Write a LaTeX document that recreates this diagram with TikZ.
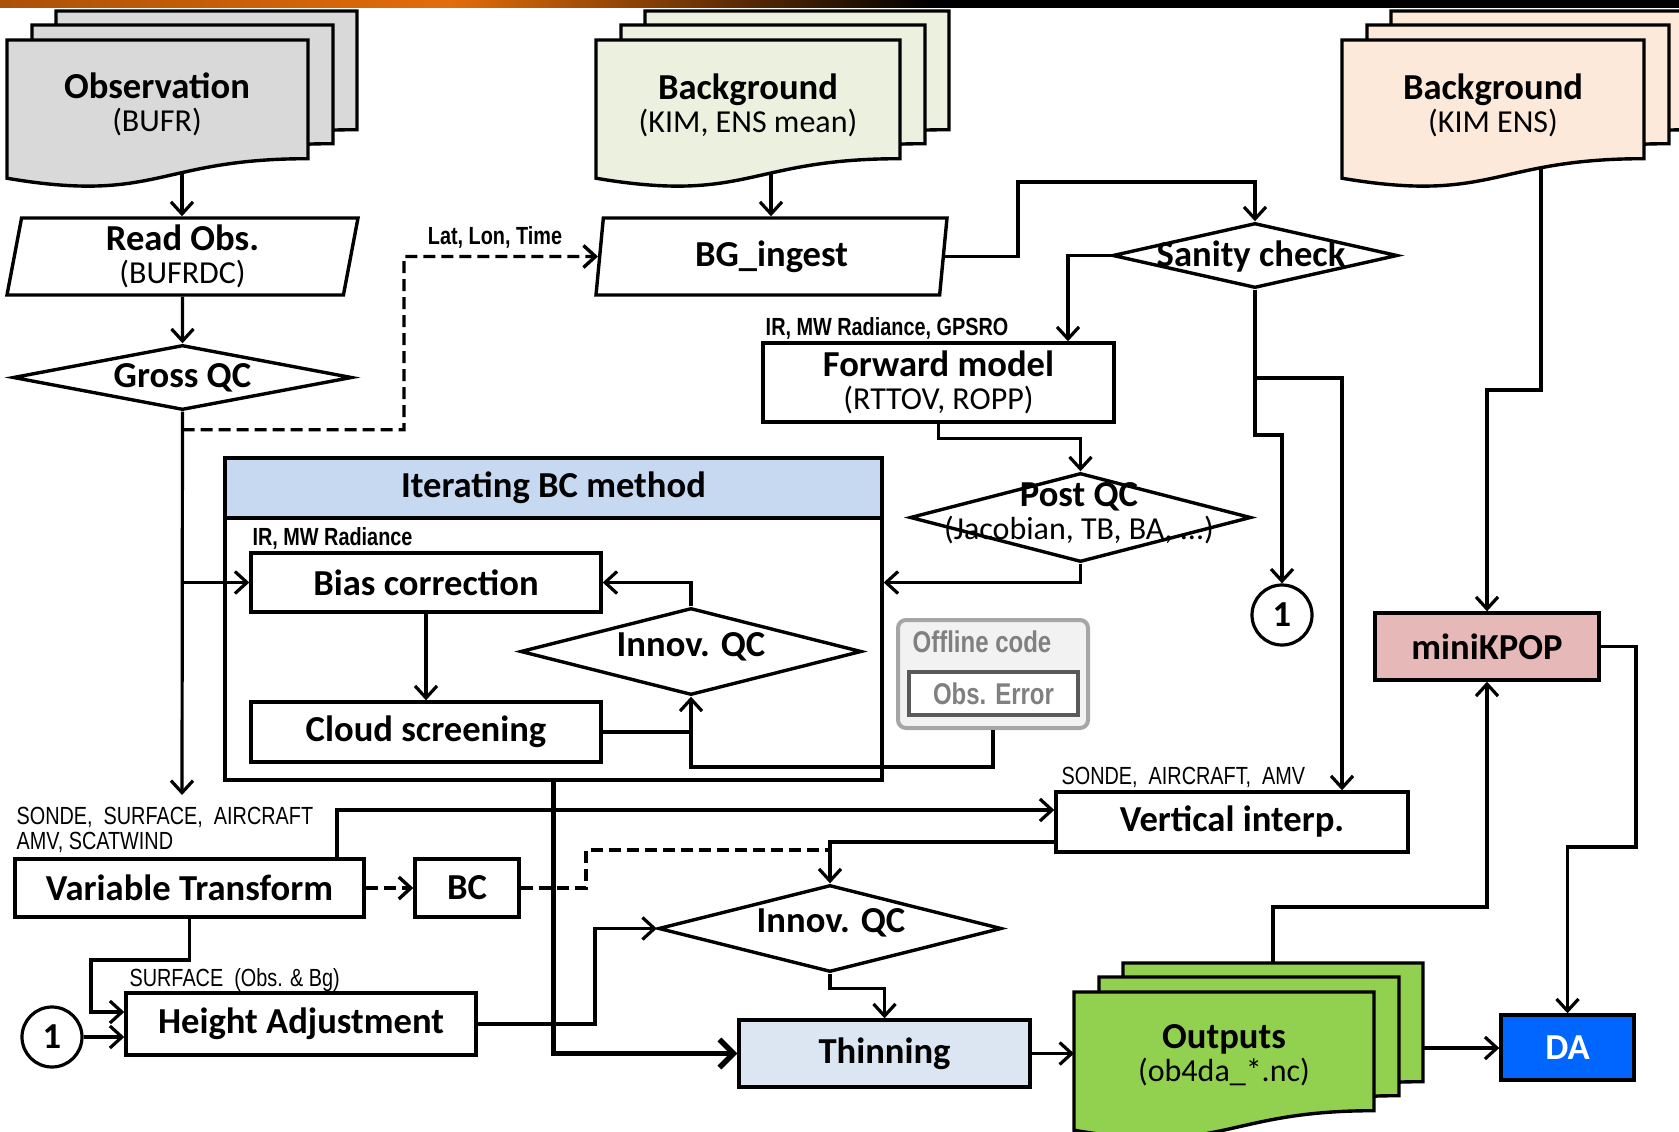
\documentclass[tikz,border=0pt]{standalone}
\usepackage{fontspec}
\setmainfont{Carlito}
\newfontfamily\narrowfont[FakeStretch=0.8]{Liberation Sans}
\usetikzlibrary{arrows.meta,calc,shapes.geometric}

\definecolor{obsgray}{HTML}{D9D9D9}
\definecolor{bggreen}{HTML}{EBF1DE}
\definecolor{enspeach}{HTML}{FDE9D9}
\definecolor{outgreen}{HTML}{92D050}
\definecolor{kpoppink}{HTML}{E6B9B8}
\definecolor{dablue}{HTML}{0066FF}
\definecolor{thinblue}{HTML}{DCE6F2}
\definecolor{headblue}{HTML}{C6D9F1}
\definecolor{offfill}{HTML}{F2F2F2}
\definecolor{offline}{HTML}{A6A6A6}
\definecolor{offtext}{HTML}{808080}
\definecolor{barorange}{HTML}{E46C0A}

\newcommand{\bigb}{\fontsize{36.6}{33}\selectfont\bfseries}
\newcommand{\subr}{\fontsize{32}{33}\selectfont\mdseries}
\newcommand{\smalln}{\narrowfont\fontsize{24.8}{25}\selectfont}

\newcommand{\docshape}[5]{%
  \draw[doc,fill=#1] (#2,#3) -- ({#2+#4},#3) -- ({#2+#4},{#3+0.802*#5})
    .. controls ({#2+0.5*#4},{#3+0.802*#5}) and ({#2+0.5*#4},{#3+1.1075*#5}) .. (#2,{#3+0.934*#5}) -- cycle;}
\newcommand{\docstack}[4]{%
  \docshape{#1}{#2+49}{#3-29}{#4}{148}
  \docshape{#1}{#2+25}{#3-15}{#4}{148}
  \docshape{#1}{#2}{#3}{#4}{148}}

\begin{document}
\begin{tikzpicture}[x=1pt,y=-1pt,line width=3.2pt,
  box/.style={draw,line width=3.4pt,inner sep=0pt,align=center,font=\bigb},
  para/.style={trapezium,trapezium left angle=77,trapezium right angle=103,trapezium stretches body,
    draw,line width=3.4pt,inner sep=0pt,align=center,font=\bigb,minimum width=351pt,minimum height=77pt},
  dia/.style={diamond,draw,line width=3.4pt,inner sep=0pt},
  doc/.style={draw,line width=3.4pt},
  ttl/.style={font=\bigb,align=center,inner sep=0pt},
  lbl/.style={font=\smalln,inner sep=0pt},
  arr/.style={-{Straight Barb[length=12pt,width=22pt]}},
  dashline/.style={line width=3.4pt,dash pattern=on 12pt off 6pt}]

\useasboundingbox (0,0) rectangle (1679,1132);

\shade[left color=barorange!75!black,right color=barorange] (0,0) rectangle (450,8);
\shade[left color=barorange,right color=black] (450,0) rectangle (930,8);
\fill[black] (930,0) rectangle (1679,8);

\docstack{obsgray}{7}{40}{301}
\node[ttl] (obs) at (157,104) {Observation\\{\subr (BUFR)}};
\docstack{bggreen}{596}{40}{304}
\node[ttl] (bg) at (748,105) {Background\\{\subr (KIM, ENS mean)}};
\docstack{enspeach}{1342}{40}{302}
\node[ttl] (ens) at (1493,105) {Background\\{\subr (KIM ENS)}};
\docstack{outgreen}{1074}{992}{300}
\node[ttl] (outs) at (1224,1055) {Outputs\\{\subr (ob4da\_*.nc)}};

\coordinate (obsout) at (182,173);
\coordinate (bgout) at (771,173);
\coordinate (ensout) at (1541,168);
\coordinate (outtop) at (1273,962);
\coordinate (outl) at (1074,1048);
\coordinate (outr) at (1423,1048);
\coordinate (vtin) at (182,795);

\node[para] (readobs) at (182.5,256.5) {Read Obs.\\{\subr (BUFRDC)}};
\node[para] (bging) at (771.5,256.5) {BG\_ingest};

\node[dia,minimum width=339pt,minimum height=65pt] (gross) at (182.5,377.5) {};
\node[ttl] (grosstxt) at (gross) {Gross QC};
\node[dia,minimum width=285pt,minimum height=65pt] (sanity) at (1255,255.5) {};
\node[ttl] (sanitytxt) at (1251,257) {Sanity check};
\node[dia,minimum width=341pt,minimum height=89pt] (post) at (1080.5,517.5) {};
\node[ttl] (posttxt) at (1079,513) {Post QC\\{\subr (Jacobian, TB, BA, ...)}};

\node[box,minimum width=351pt,minimum height=79pt] (forward) at (938.5,382.5) {Forward model\\{\subr (RTTOV, ROPP)}};

\node[box,minimum width=657pt,minimum height=322pt] (itbox) at (553.5,619) {};
\node[box,fill=headblue,minimum width=657pt,minimum height=60pt] (ithead) at (553.5,488) {Iterating BC method};
\node[box,minimum width=350pt,minimum height=59pt] (bias) at (426,582.5) {Bias correction};
\node[box,minimum width=350pt,minimum height=60pt] (cloud) at (426,732) {Cloud screening};
\node[dia,minimum width=341pt,minimum height=87pt] (iqc) at (691,651.5) {};
\node[ttl] (iqctxt) at (691,647) {Innov. QC};

\node[draw=offline,fill=offfill,line width=4pt,rounded corners=8pt,minimum width=190pt,minimum height=108pt] (offline) at (993,674) {};
\node[lbl,font=\narrowfont\fontsize{30}{30}\selectfont\bfseries,text=offtext] (offtxt) at (982,642) {Offline code};
\node[box,draw=black!65,fill=white,minimum width=169pt,minimum height=43pt,font=\narrowfont\fontsize{30}{30}\selectfont\bfseries,text=offtext] (obserr) at (993.5,693.5) {Obs. Error};

\node[circle,draw,line width=3.2pt,minimum size=60pt,inner sep=0pt,font=\bigb] (conn1) at (1282,615) {1};
\node[circle,draw,line width=3.2pt,minimum size=60pt,inner sep=0pt,font=\bigb] (conn2) at (52,1037) {1};

\node[box,fill=kpoppink,minimum width=224pt,minimum height=67pt] (mini) at (1487,646.5) {miniKPOP};
\node[box,fill=dablue,text=white,minimum width=133pt,minimum height=65pt] (da) at (1567.5,1047.5) {DA};
\node[box,minimum width=352pt,minimum height=60pt] (vinterp) at (1232,822) {Vertical interp.};
\node[box,minimum width=349pt,minimum height=58pt] (vt) at (189.5,888) {Variable Transform};
\node[box,minimum width=104pt,minimum height=58pt] (bc) at (467,888) {BC};
\node[box,minimum width=350pt,minimum height=62pt] (ha) at (301,1024) {Height Adjustment};
\node[dia,minimum width=343pt,minimum height=87pt] (iqc2) at (830,928.5) {};
\node[ttl] (iqc2txt) at (831,923) {Innov. QC};
\node[box,fill=thinblue,minimum width=291pt,minimum height=67pt] (thin) at (884.5,1053.5) {Thinning};

\node[lbl,font=\smalln\bfseries] (latlon) at (495,237) {Lat, Lon, Time};
\node[lbl,font=\smalln\bfseries] (irgps) at (887,328) {IR, MW Radiance, GPSRO};
\node[lbl,font=\smalln\bfseries,anchor=west] (irmw) at (251,538) {IR, MW Radiance};
\node[lbl,anchor=west,align=left] (sonde) at (15,829.5) {SONDE,\ \ SURFACE,\ \ AIRCRAFT\\AMV, SCATWIND};
\node[lbl,anchor=west] (surf) at (128,980) {SURFACE\ \ (Obs. \& Bg)};
\node[lbl,anchor=west] (sondevi) at (1060,777) {SONDE,\ \ AIRCRAFT,\ \ AMV};

\path[arr] (obsout) edge (obsout |- readobs.north)
  (readobs.south) edge (gross.north)
  (bgout) edge (bgout |- bging.north)
  (bias.south) edge (cloud.north)
  (thin.east) edge (thin.east -| outl)
  (outr) edge (outr -| da.west)
  (conn2.east) edge (conn2.east -| ha.west);

\draw[arr] (gross.south) -- (vtin);
\draw[arr] (gross.south |- bias.west) -- (bias.west);
\draw[arr,dashline] (gross.south) ++(0,18) -| (404,256.5) -- (bging.west);
\draw[arr] (bging.east) -| (1018,182) -| (sanity.north);
\draw[arr] (sanity.west) -| ([xshift=129.5pt]forward.north);
\draw[arr] (forward.south) -- ++(0,15) -| (post.north);
\draw[arr] (post.south) |- (itbox.east |- bias.east);
\draw[arr] (sanity.south) |- (1282,435) -- (conn1.north);
\draw[arr] (sanity.south |- 0,378) -| ([xshift=110pt]vinterp.north);
\draw[arr] (ensout) -- ++(0,222) -| (mini.north);
\draw[arr] (mini.east) -| (1636,847) -| (da.north);
\draw[arr] (outtop) -- ++(0,-55) -| (mini.south);
\draw[-{Straight Barb[length=14pt,width=28pt]},line width=5.5pt] (itbox.south) |- (thin.west);

\draw[arr] (iqc.north) |- (bias.east);
\draw (cloud.east) -- (cloud.east -| iqc.south);
\draw[arr] (offline.south) -- ++(0,37) -| (iqc.south);

\draw[arr] ([xshift=147.5pt]vt.north) |- ([yshift=12pt]vinterp.west);
\draw[arr] ([yshift=-20pt]vinterp.west) -| (iqc2.north);
\draw[arr,dashline] (vt.east) -- (bc.west);
\draw[dashline] (bc.east) -- (586,888) |- (iqc2.north |- 0,850);
\draw[arr] (vt.south) |- (91,960) |- ([yshift=12pt]ha.west);
\draw[arr] (ha.east) -- (595,1024) |- (iqc2.west);
\draw[arr] (iqc2.south) -- ++(0,15) -| (thin.north);

\end{tikzpicture}
\end{document}
